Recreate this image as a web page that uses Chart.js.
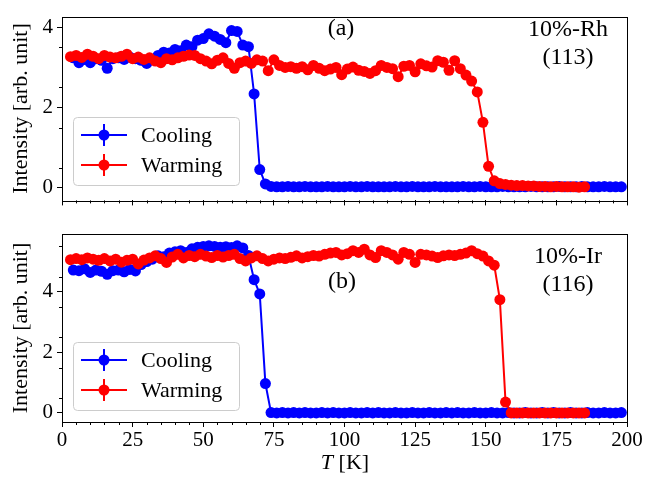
<!DOCTYPE html>
<html>
<head>
<meta charset="utf-8">
<script src="https://cdn.jsdelivr.net/npm/chart.js@4"></script>
<style>
  body { margin: 0; background: #fff; }
  #wrap { position: relative; width: 653px; height: 479px; }
  canvas { position: absolute; left: 0; }
  #top-chart { top: 0; }
  #bottom-chart { top: 217px; }
</style>
</head>
<body>
<div id="wrap">
  <canvas id="top-chart" width="653" height="217"></canvas>
  <canvas id="bottom-chart" width="653" height="262"></canvas>
</div>
<script>
// temperatures (K)
const coolTemps = [
  4, 6, 8, 10, 12, 14, 16, 18, 20, 22,
  24, 26, 28, 30, 32, 34, 36, 38, 40, 42,
  44, 46, 48, 50, 52, 54, 56, 58, 60, 62,
  64, 66, 68, 70, 72, 74, 76, 78, 80, 82,
  84, 86, 88, 90, 92, 94, 96, 98, 100, 102,
  104, 106, 108, 110, 112, 114, 116, 118, 120, 122,
  124, 126, 128, 130, 132, 134, 136, 138, 140, 142,
  144, 146, 148, 150, 152, 154, 156, 158, 160, 162,
  164, 166, 168, 170, 172, 174, 176, 178, 180, 182,
  184, 186, 188, 190, 192, 194, 196, 198
];
const warmTemps = [
  3, 5, 7, 9, 11, 13, 15, 17, 19, 21,
  23, 25, 27, 29, 31, 33, 35, 37, 39, 41,
  43, 45, 47, 49, 51, 53, 55, 57, 59, 61,
  63, 65, 67, 69, 71, 73, 75, 77, 79, 81,
  83, 85, 87, 89, 91, 93, 95, 97, 99, 101,
  103, 105, 107, 109, 111, 113, 115, 117, 119, 121,
  123, 125, 127, 129, 131, 133, 135, 137, 139, 141,
  143, 145, 147, 149, 151, 153, 155, 157, 159, 161,
  163, 165, 167, 169, 171, 173, 175, 177, 179, 181,
  183, 185
];

// 10%-Rh, (113) reflection
const rhCooling = [
  3.24, 3.12, 3.20, 3.12, 3.22, 3.18, 2.98, 3.22, 3.24, 3.20,
  3.26, 3.22, 3.18, 3.10, 3.20, 3.30, 3.38, 3.36, 3.45, 3.42,
  3.56, 3.52, 3.68, 3.72, 3.84, 3.78, 3.70, 3.62, 3.92, 3.90,
  3.56, 3.52, 2.34, 0.45, 0.09, 0.03, 0.02, 0.02, 0.03, 0.02,
  0.02, 0.03, 0.02, 0.02, 0.02, 0.03, 0.02, 0.02, 0.02, 0.03,
  0.02, 0.02, 0.03, 0.02, 0.02, 0.02, 0.02, 0.03, 0.02, 0.02,
  0.03, 0.02, 0.02, 0.02, 0.03, 0.02, 0.02, 0.02, 0.02, 0.03,
  0.02, 0.02, 0.03, 0.02, 0.02, 0.02, 0.03, 0.02, 0.02, 0.02,
  0.02, 0.03, 0.02, 0.02, 0.02, 0.02, 0.03, 0.02, 0.02, 0.02,
  0.03, 0.02, 0.02, 0.02, 0.03, 0.02, 0.02, 0.02
];
const rhWarming = [
  3.27, 3.30, 3.25, 3.33, 3.28, 3.22, 3.30, 3.26, 3.24, 3.28,
  3.33, 3.22, 3.26, 3.20, 3.24, 3.16, 3.12, 3.22, 3.19, 3.24,
  3.28, 3.31, 3.30, 3.22, 3.16, 3.09, 3.18, 3.24, 3.10, 2.98,
  3.12, 3.16, 3.10, 3.19, 3.16, 2.92, 3.19, 3.05, 3.00, 3.02,
  2.98, 3.02, 2.94, 3.05, 2.98, 2.92, 2.96, 3.00, 2.82, 2.96,
  3.01, 2.93, 2.90, 2.85, 2.92, 3.05, 3.00, 2.97, 2.77, 3.03,
  3.05, 2.89, 3.09, 3.04, 3.01, 3.17, 3.13, 2.93, 3.17, 2.97,
  2.81, 2.66, 2.39, 1.63, 0.53, 0.17, 0.10, 0.08, 0.06, 0.05,
  0.05, 0.04, 0.04, 0.03, 0.03, 0.02, 0.03, 0.02, 0.02, 0.02,
  0.01, 0.02
];

// 10%-Ir, (116) reflection
const irCooling = [
  4.72, 4.70, 4.76, 4.64, 4.72, 4.68, 4.58, 4.70, 4.72, 4.66,
  4.74, 4.69, 4.90, 5.00, 5.08, 5.19, 5.16, 5.28, 5.32, 5.36,
  5.30, 5.42, 5.47, 5.50, 5.52, 5.50, 5.47, 5.49, 5.46, 5.52,
  5.45, 5.20, 4.40, 3.93, 0.97, 0.01, 0.00, 0.01, 0.00, 0.01,
  0.00, 0.01, 0.00, 0.00, 0.01, 0.00, 0.01, 0.00, 0.00, 0.01,
  0.00, 0.00, 0.01, 0.00, 0.01, 0.00, 0.00, 0.01, 0.00, 0.00,
  0.01, 0.00, 0.00, 0.01, 0.00, 0.00, 0.01, 0.00, 0.01, 0.00,
  0.00, 0.01, 0.00, 0.00, 0.01, 0.00, 0.00, 0.01, 0.00, 0.00,
  0.01, 0.00, 0.00, 0.01, 0.00, 0.01, 0.00, 0.00, 0.01, 0.00,
  0.00, 0.01, 0.00, 0.00, 0.01, 0.00, 0.00, 0.01
];
const irWarming = [
  5.06, 5.10, 5.06, 5.12, 5.08, 5.04, 5.10, 5.02, 5.08, 4.98,
  5.04, 5.08, 4.92, 5.05, 5.12, 5.19, 5.10, 4.97, 5.15, 5.24,
  5.12, 5.20, 5.16, 5.24, 5.18, 5.13, 5.20, 5.15, 5.20, 5.24,
  5.10, 5.02, 5.12, 5.19, 5.10, 5.02, 5.08, 5.12, 5.10, 5.14,
  5.19, 5.12, 5.16, 5.20, 5.18, 5.24, 5.28, 5.30, 5.22, 5.26,
  5.36, 5.30, 5.41, 5.22, 5.13, 5.36, 5.30, 5.22, 5.08, 5.30,
  5.24, 4.97, 5.24, 5.22, 5.18, 5.13, 5.19, 5.22, 5.20, 5.24,
  5.28, 5.36, 5.26, 5.18, 5.02, 4.88, 3.74, 0.36, 0.00, 0.00,
  0.00, 0.00, 0.00, 0.00, 0.00, 0.00, 0.00, 0.00, 0.00, 0.00,
  0.00, 0.00
];

const xTicks = [0, 25, 50, 75, 100, 125, 150, 175, 200];
const yTicks = [0, 2, 4];

const SERIF = '"Liberation Serif", "Times New Roman", serif';
Chart.defaults.font.family = SERIF;
Chart.defaults.color = '#000';

const toPoints = (temps, vals) => temps.map((t, i) => ({ x: t, y: vals[i] }));

function series(label, color, temps, vals, order) {
  return {
    label: label,
    data: toPoints(temps, vals),
    borderColor: color,
    backgroundColor: color,
    pointBackgroundColor: color,
    pointBorderWidth: 0,
    pointRadius: 5.5,
    borderWidth: 2,
    tension: 0,
    order: order,
  };
}

// matplotlib-ish frame: full box, minor ticks, legend with errorbar glyph, text
function framePlugin(cfg) {
  return {
    id: 'frame',
    afterDraw(chart) {
      const { ctx, chartArea: a } = chart;
      const x = chart.scales.x, y = chart.scales.y;
      ctx.save();
      ctx.strokeStyle = '#000';
      ctx.lineWidth = 1;
      ctx.beginPath();
      for (let t = 5; t < 200; t += 5) {
        if (t % 25 === 0) continue;
        const px = Math.round(x.getPixelForValue(t)) + 0.5;
        ctx.moveTo(px, a.bottom);
        ctx.lineTo(px, a.bottom + 3);
      }
      for (let v = 0.5; v < y.max; v += 1) {
        const py = Math.round(y.getPixelForValue(v)) + 0.5;
        ctx.moveTo(a.left, py);
        ctx.lineTo(a.left - 3, py);
      }
      ctx.stroke();
      ctx.strokeRect(Math.round(a.left) + 0.5, Math.round(a.top) + 0.5,
        Math.round(a.right - a.left), Math.round(a.bottom - a.top));

      // legend
      const lx = cfg.legend[0], ly = cfg.legend[1];
      ctx.beginPath();
      ctx.roundRect(lx + 0.5, ly + 0.5, 166, 68, 4);
      ctx.fillStyle = 'rgba(255,255,255,0.8)';
      ctx.fill();
      ctx.strokeStyle = '#cccccc';
      ctx.stroke();
      chart.data.datasets.forEach((ds, i) => {
        const cy = ly + 18 + i * 30;
        ctx.strokeStyle = ds.borderColor;
        ctx.fillStyle = ds.borderColor;
        ctx.lineWidth = 2;
        ctx.beginPath();
        ctx.moveTo(lx + 8, cy);
        ctx.lineTo(lx + 54, cy);
        ctx.moveTo(lx + 31, cy - 11);
        ctx.lineTo(lx + 31, cy + 11);
        ctx.stroke();
        ctx.beginPath();
        ctx.arc(lx + 31, cy, 5.5, 0, Math.PI * 2);
        ctx.fill();
        ctx.fillStyle = '#000';
        ctx.font = '22px ' + SERIF;
        ctx.textAlign = 'left';
        ctx.textBaseline = 'middle';
        ctx.fillText(ds.label, lx + 68, cy + 1);
      });

      // panel labels
      ctx.fillStyle = '#000';
      ctx.font = '24px ' + SERIF;
      ctx.textAlign = 'center';
      ctx.textBaseline = 'middle';
      cfg.notes.forEach(n => ctx.fillText(n[0], n[1], n[2]));

      // x axis title with italic T
      if (cfg.xTitle) {
        const cx = cfg.xTitle[0], cy = cfg.xTitle[1];
        ctx.font = 'italic 22px ' + SERIF;
        const wT = ctx.measureText('T').width;
        ctx.font = '22px ' + SERIF;
        const wK = ctx.measureText(' [K]').width;
        const x0 = cx - (wT + wK) / 2;
        ctx.textAlign = 'left';
        ctx.font = 'italic 22px ' + SERIF;
        ctx.fillText('T', x0, cy);
        ctx.font = '22px ' + SERIF;
        ctx.fillText(' [K]', x0 + wT, cy);
      }
      ctx.restore();
    }
  };
}

function makePanel(canvasId, cooling, warming, yMin, yMax, opts) {
  const tickGrid = {
    drawOnChartArea: false,
    drawTicks: true,
    tickLength: 5,
    color: '#000',
    lineWidth: 1,
  };
  return new Chart(document.getElementById(canvasId), {
    type: 'line',
    data: {
      datasets: [
        series('Cooling', '#0000ff', coolTemps, cooling, 1),
        series('Warming', '#ff0000', warmTemps, warming, 0),
      ],
    },
    options: {
      responsive: false,
      animation: false,
      events: [],
      layout: { padding: { top: opts.padTop, right: 26, left: 0, bottom: 0 } },
      plugins: { legend: { display: false }, tooltip: { enabled: false } },
      scales: {
        x: {
          type: 'linear',
          min: 0,
          max: 200,
          afterBuildTicks: (s) => { s.ticks = xTicks.map(v => ({ value: v })); },
          afterFit: (s) => { s.height = opts.xHeight; },
          grid: tickGrid,
          border: { display: false },
          ticks: { display: opts.xLabels, font: { size: 21 }, padding: 1, maxRotation: 0, autoSkip: false },
        },
        y: {
          type: 'linear',
          min: yMin,
          max: yMax,
          afterBuildTicks: (s) => { s.ticks = yTicks.map(v => ({ value: v })); },
          afterFit: (s) => { s.width = 62; },
          grid: tickGrid,
          border: { display: false },
          ticks: { font: { size: 21 }, padding: 4 },
          title: {
            display: true,
            text: 'Intensity [arb. unit]',
            font: { size: 22 },
            padding: { top: 8, bottom: 0 },
          },
        },
      },
    },
    plugins: [framePlugin(opts)],
  });
}

makePanel('top-chart', rhCooling, rhWarming, -0.32, 4.27, {
  padTop: 9,
  xHeight: 16,
  xLabels: false,
  legend: [73, 117],
  notes: [['(a)', 341, 29], ['10%-Rh', 568, 30], ['(113)', 568, 58]],
});

makePanel('bottom-chart', irCooling, irWarming, -0.30, 5.91, {
  padTop: 17,
  xHeight: 57,
  xLabels: true,
  legend: [73, 125],
  notes: [['(b)', 342, 65], ['10%-Ir', 568, 40], ['(116)', 568, 68]],
  xTitle: [345, 246],
});
</script>
</body>
</html>
